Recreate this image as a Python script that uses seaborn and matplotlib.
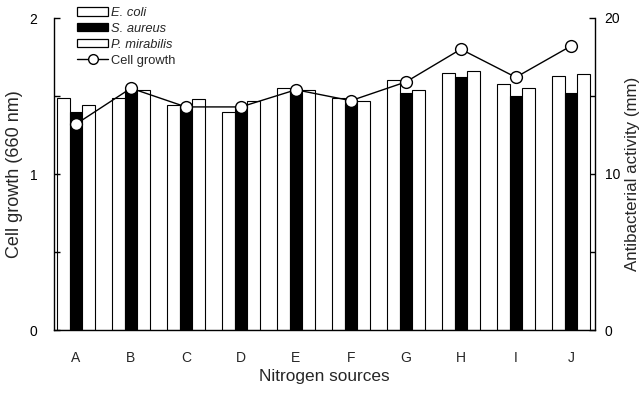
import matplotlib
matplotlib.use("Agg")
import matplotlib.pyplot as plt
from matplotlib.ticker import MultipleLocator, FixedLocator
from matplotlib.patches import Patch
from matplotlib.lines import Line2D
import seaborn as sns
import pandas as pd

categories = ["A", "B", "C", "D", "E", "F", "G", "H", "I", "J"]
strains = ["E. coli", "S. aureus", "P. mirabilis"]
e_coli = [14.9, 14.9, 14.4, 14.0, 15.5, 14.85, 16.0, 16.5, 15.8, 16.3]
s_aureus = [14.0, 15.4, 14.3, 14.3, 15.3, 14.5, 15.2, 16.2, 15.0, 15.2]
p_mirabilis = [14.4, 15.4, 14.8, 14.7, 15.4, 14.7, 15.4, 16.6, 15.5, 16.4]
growth = [1.32, 1.55, 1.43, 1.43, 1.54, 1.47, 1.59, 1.80, 1.62, 1.82]

sns.set_style("ticks")
plt.rcParams["font.family"] = ["Liberation Sans", "DejaVu Sans"]

df = pd.DataFrame({
    "source": categories * 3,
    "strain": [s for s in strains for _ in categories],
    "activity": e_coli + s_aureus + p_mirabilis,
})

fig = plt.figure(figsize=(6.43, 3.93), dpi=100)
ax = fig.add_axes([54 / 643, 1 - 330 / 393, (595 - 54) / 643, (330 - 18) / 393])
ax2 = ax.twinx()

sns.barplot(data=df, x="source", y="activity", hue="strain", hue_order=strains,
            order=categories, palette=["white", "black", "white"], saturation=1,
            edgecolor="black", linewidth=0.8, width=0.68, errorbar=None,
            legend=False, ax=ax2)

sns.pointplot(x=categories, y=growth, order=categories, ax=ax, color="black",
              markers="o", errorbar=None, markersize=8.5, linewidth=1.0)
for ln in ax.lines:
    ln.set_markerfacecolor("white")
    ln.set_markeredgecolor("black")
    ln.set_markeredgewidth(1.0)

ax.set_zorder(ax2.get_zorder() + 1)
ax.patch.set_visible(False)

ax.set_xlim(-0.4, 9.44)
ax.set_ylim(0, 2)
ax2.set_ylim(0, 20)

ax.yaxis.set_major_locator(FixedLocator([0, 1, 2]))
ax.yaxis.set_minor_locator(MultipleLocator(0.5))
ax2.yaxis.set_major_locator(FixedLocator([0, 10, 20]))
ax2.yaxis.set_minor_locator(MultipleLocator(5))

ax.tick_params(axis="y", which="both", direction="in", length=4, width=1,
               pad=12, labelsize=10, colors="black")
ax2.tick_params(axis="y", which="both", direction="in", length=4, width=1,
                pad=7, labelsize=10, colors="black")
ax.tick_params(axis="x", length=0, pad=15, labelsize=10)

for a in (ax, ax2):
    a.spines["top"].set_visible(False)
    for s in a.spines.values():
        s.set_color("black")
        s.set_linewidth(1.0)
ax.spines["right"].set_visible(False)
ax2.spines["left"].set_visible(False)
ax2.spines["bottom"].set_visible(False)

ax.set_xlabel("Nitrogen sources", fontsize=12.4)
ax.set_ylabel("Cell growth (660 nm)", fontsize=13)
ax2.set_ylabel("Antibacterial activity (mm)", fontsize=12.2)
ax.xaxis.set_label_coords(0.5, -0.125)
ax.yaxis.set_label_coords(-0.058, 0.5)
ax2.yaxis.set_label_coords(1.055, 0.5)

handles = [
    Patch(facecolor="white", edgecolor="black", linewidth=0.9),
    Patch(facecolor="black", edgecolor="black", linewidth=0.9),
    Patch(facecolor="white", edgecolor="black", linewidth=0.9),
    Line2D([], [], color="black", linewidth=1.0, marker="o", markersize=7,
           markerfacecolor="white", markeredgecolor="black"),
]
labels = strains + ["Cell growth"]
leg = fig.legend(handles, labels, loc="upper left",
                 bbox_to_anchor=(77 / 643, 1 - 7 / 393), frameon=False,
                 fontsize=9.3, borderpad=0, borderaxespad=0, handlelength=2.4,
                 handleheight=0.6, handletextpad=0.25, labelspacing=0.3)
for t in leg.get_texts()[:3]:
    t.set_style("italic")

fig.savefig("out.png", dpi=100)
